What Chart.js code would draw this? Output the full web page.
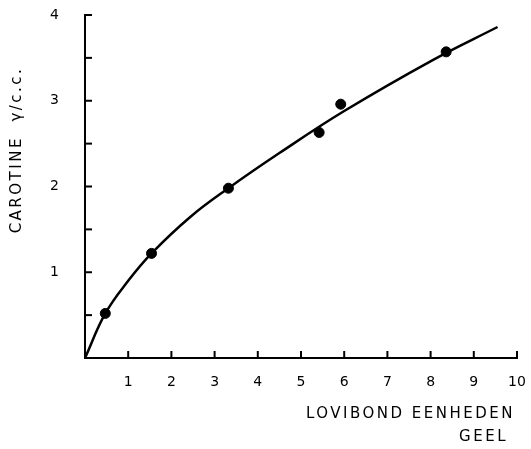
<!DOCTYPE html>
<html><head><meta charset="utf-8">
<script src="https://cdn.jsdelivr.net/npm/chart.js@4/dist/chart.umd.min.js"></script>
<style>html,body{margin:0;padding:0;background:#fff}</style>
</head><body>
<canvas id="c" width="531" height="449"></canvas>
<script>
// Measured points (Lovibond yellow units vs carotine γ/c.c.)
const measuredX = [0.47, 1.54, 3.32, 5.42, 5.92, 8.36];
const measuredY = [0.52, 1.22, 1.98, 2.63, 2.96, 3.57];
// Hand-drawn fitted curve
const curveX = [0, 0.47, 1, 1.54, 2.45, 3.32, 4.5, 6, 8.07, 9.55];
const curveY = [0, 0.52, 0.9, 1.22, 1.65, 1.98, 2.39, 2.88, 3.48, 3.86];
const xTickLabels = [1, 2, 3, 4, 5, 6, 7, 8, 9, 10];
const yTickLabels = [1, 2, 3, 4];
const yTitle = 'CAROTINE  γ/c.c.';
const xTitle = ['LOVIBOND EENHEDEN', 'GEEL'];

const FONT = '"DejaVu Sans", sans-serif';

const inwardTicks = {
  id: 'inwardTicks',
  afterDraw(chart) {
    const ctx = chart.ctx, xs = chart.scales.x, ys = chart.scales.y;
    ctx.save();
    ctx.strokeStyle = '#000';
    ctx.lineWidth = 2;
    ys.ticks.forEach(t => {
      const y = ys.getPixelForValue(t.value);
      ctx.beginPath(); ctx.moveTo(xs.left, y); ctx.lineTo(xs.left + 7, y); ctx.stroke();
    });
    xs.ticks.forEach(t => {
      if (t.value === 0) return;
      const x = xs.getPixelForValue(t.value);
      ctx.beginPath(); ctx.moveTo(x, ys.bottom); ctx.lineTo(x, ys.bottom - 7); ctx.stroke();
    });
    // axis titles
    ctx.fillStyle = '#000';
    ctx.font = '15px ' + FONT;
    try { ctx.letterSpacing = '2.5px'; } catch (e) {}
    ctx.textAlign = 'right';
    ctx.textBaseline = 'middle';
    ctx.fillText(xTitle[0], xs.right - 2, 414);
    ctx.fillText(xTitle[1], xs.right - 9, 437);
    ctx.translate(17, 150);
    ctx.rotate(-Math.PI / 2);
    ctx.textAlign = 'center';
    ctx.fillText(yTitle, 0, 0);
    ctx.restore();
  }
};

new Chart(document.getElementById('c'), {
  type: 'scatter',
  data: {
    datasets: [
      {
        type: 'line',
        data: curveX.map((x, i) => ({ x, y: curveY[i] })),
        borderColor: '#000',
        borderWidth: 2.5,
        pointRadius: 0,
        tension: 0.4,
        fill: false
      },
      {
        data: measuredX.map((x, i) => ({ x, y: measuredY[i] })),
        backgroundColor: '#000',
        borderColor: '#000',
        pointRadius: 5,
        pointHoverRadius: 5
      }
    ]
  },
  options: {
    responsive: false,
    animation: false,
    devicePixelRatio: 1,
    layout: { autoPadding: false, padding: { top: 15, right: 14, left: 0, bottom: 0 } },
    plugins: { legend: { display: false }, tooltip: { enabled: false } },
    scales: {
      x: {
        type: 'linear', min: 0, max: 10,
        grid: { display: true, drawOnChartArea: false, drawTicks: false },
        border: { display: true, color: '#000', width: 2 },
        ticks: {
          stepSize: 1, padding: 16, color: '#000', maxRotation: 0,
          font: { family: FONT, size: 14 },
          callback: v => xTickLabels.includes(v) ? String(v) : ''
        },
        afterFit: s => { s.height = 91; s.paddingLeft = 0; s.paddingRight = 0; }
      },
      y: {
        type: 'linear', min: 0, max: 4,
        grid: { display: true, drawOnChartArea: false, drawTicks: false },
        border: { display: true, color: '#000', width: 2 },
        ticks: {
          stepSize: 0.5, padding: 26, color: '#000',
          font: { family: FONT, size: 14 },
          callback: v => yTickLabels.includes(v) ? String(v) : ''
        },
        afterFit: s => { s.width = 85; s.paddingTop = 0; s.paddingBottom = 0; }
      }
    }
  },
  plugins: [inwardTicks]
});
</script>
</body></html>
